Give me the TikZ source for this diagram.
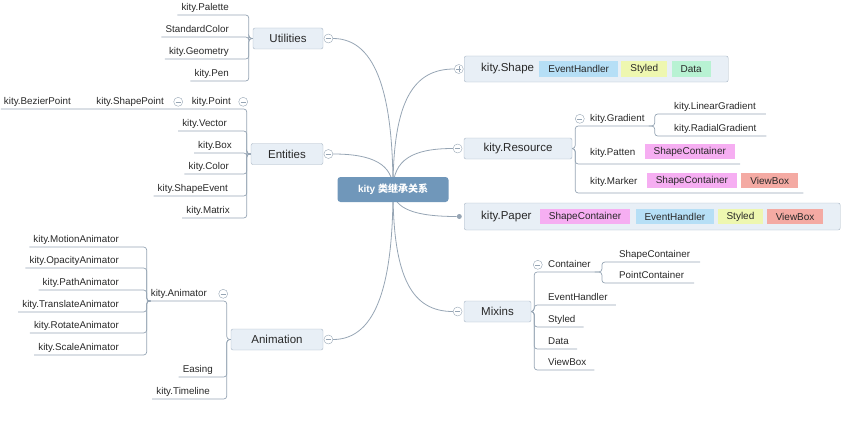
\documentclass[tikz,border=0pt]{standalone}
\usepackage{fontspec}
\setmainfont{Liberation Sans}
\newfontfamily\cjkfont{Noto Sans CJK SC}
\usetikzlibrary{positioning, backgrounds}

\definecolor{linec}{RGB}{150,165,180}
\definecolor{boxline}{RGB}{168,182,196}
\definecolor{boxfill}{RGB}{232,239,246}
\definecolor{hubfill}{RGB}{112,151,186}
\definecolor{textc}{RGB}{40,40,40}
\definecolor{cblue}{RGB}{182,223,246}
\definecolor{cyellow}{RGB}{238,247,176}
\definecolor{cgreen}{RGB}{184,242,211}
\definecolor{cpink}{RGB}{246,174,242}
\definecolor{cred}{RGB}{244,170,163}

\newcommand\leaffont{\fontsize{9.8}{11}\selectfont}
\newcommand\boxfont{\fontsize{11.5}{13}\selectfont}
\newcommand\tagfont{\fontsize{10}{12}\selectfont}

\begin{document}
\begin{tikzpicture}[
    x=1pt, y=-1pt,
    mainbox/.style={draw=boxline, fill=boxfill, rounded corners=2pt, minimum height=21pt, inner sep=0pt, font=\boxfont, text=textc},
    boxtext/.style={font=\boxfont, text=textc, inner xsep=4pt},
    hubbox/.style={fill=hubfill, rounded corners=3pt, minimum width=111pt, minimum height=25pt, text=white, font=\fontsize{10}{12}\selectfont\bfseries},
    leaf/.style={font=\leaffont, text=textc, inner xsep=4pt, inner ysep=2pt, text height=0.75em, text depth=0.25em},
    lleaf/.style={leaf, anchor=south east},
    rleaf/.style={leaf, anchor=south west},
    tagleaf/.style={rleaf, text height=0.72em, text depth=0pt, inner ysep=8.5pt},
    tag/.style={font=\tagfont, text=textc, inner xsep=9pt, inner ysep=0pt, minimum height=15.5pt},
    tagblue/.style={tag, fill=cblue},
    tagyellow/.style={tag, fill=cyellow},
    taggreen/.style={tag, fill=cgreen},
    tagpink/.style={tag, fill=cpink},
    tagred/.style={tag, fill=cred},
    fold/.style={circle, draw=linec, fill=white, minimum size=9pt, inner sep=0pt,
        path picture={\draw[linec] ([xshift=-2.6pt]path picture bounding box.center) -- ([xshift=2.6pt]path picture bounding box.center);}},
    unfold/.style={fold,
        path picture={\draw[linec] ([xshift=-2.6pt]path picture bounding box.center) -- ([xshift=2.6pt]path picture bounding box.center)
            ([yshift=-2.6pt]path picture bounding box.center) -- ([yshift=2.6pt]path picture bounding box.center);}},
    dot/.style={circle, fill=linec, minimum size=5pt, inner sep=0pt},
    branch/.style={draw=linec, line width=0.7pt, rounded corners=3pt},
    curve/.style={draw=linec, line width=0.8pt}
]
\useasboundingbox (0,0) rectangle (861,428);

% Root
\node[hubbox] (hub) at (393,189.5) {kity {\cjkfont 类继承关系}};

% Utilities
\node[mainbox, minimum width=70pt] (util) at (288,38.5) {Utilities};
\node[fold, right=0.5pt of util] (utilf) {};
\node[lleaf] (upal) at (233,15) {kity.Palette};
\node[lleaf] (ustd) at (233,37) {StandardColor};
\node[lleaf] (ugeo) at (233,59) {kity.Geometry};
\node[lleaf] (upen) at (233,81) {kity.Pen};
\foreach \n in {upal,ustd,ugeo,upen}
    \draw[branch] (util.west) -- ++(-4,0) |- (\n.south west);

% Entities
\node[mainbox, minimum width=72pt] (ent) at (287,154) {Entities};
\node[fold, right=0.5pt of ent] (entf) {};
\node[lleaf] (epnt) at (235,109) {kity.Point};
\node[fold, right=3.5pt of epnt] (epntf) {};
\node[lleaf] (eshp) at (168,109) {kity.ShapePoint};
\node[fold, right=5.5pt of eshp] (eshpf) {};
\node[lleaf, inner xsep=3pt] (ebez) at (74,109) {kity.BezierPoint};
\node[lleaf] (evec) at (231,131) {kity.Vector};
\node[lleaf] (ebox) at (236,153) {kity.Box};
\node[lleaf] (ecol) at (233,174) {kity.Color};
\node[lleaf] (esev) at (232,196) {kity.ShapeEvent};
\node[lleaf] (emat) at (234,218) {kity.Matrix};
\draw[branch] (ent.west) -- ++(-4,0) |- (epnt.south west) -- (eshp.south west) -- (ebez.south west);
\foreach \n in {evec,ebox,ecol,esev,emat}
    \draw[branch] (ent.west) -- ++(-4,0) |- (\n.south west);

% Animation
\node[mainbox, minimum width=92pt] (anim) at (277,339.5) {Animation};
\node[fold, right=0.5pt of anim] (animf) {};
\node[lleaf] (aanim) at (211,301) {kity.Animator};
\node[fold, right=7.5pt of aanim] (aanimf) {};
\node[lleaf] (aeas) at (217,377) {Easing};
\node[lleaf] (atim) at (214,399) {kity.Timeline};
\foreach \n in {aanim,aeas,atim}
    \draw[branch] (anim.west) -- ++(-4,0) |- (\n.south west);
\node[lleaf] (amot) at (123,247) {kity.MotionAnimator};
\node[lleaf] (aopa) at (123,268) {kity.OpacityAnimator};
\node[lleaf] (apat) at (123,290) {kity.PathAnimator};
\node[lleaf] (atra) at (123,312) {kity.TranslateAnimator};
\node[lleaf] (arot) at (123,333) {kity.RotateAnimator};
\node[lleaf] (asca) at (123,355) {kity.ScaleAnimator};
\foreach \n in {amot,aopa,apat,atra,arot,asca}
    \draw[branch] (aanim.south west) ++(4,0) -- ++(-4,0) |- (\n.south west);

% kity.Shape
\node[mainbox, minimum width=264pt, minimum height=26pt, anchor=west] (shape) at (464,69) {};
\node[unfold, left=0.5pt of shape] (shapef) {};
\node[boxtext, anchor=west] (shapet) at ([xshift=13pt]shape.west) {kity.Shape};
\node[tagblue, right=1pt of shapet] (seh) {EventHandler};
\node[tagyellow, right=3pt of seh] (ssty) {Styled};
\node[taggreen, right=4pt of ssty] (sdat) {Data};

% kity.Resource
\node[mainbox, minimum width=108pt] (res) at (518,148.5) {kity.Resource};
\node[fold, left=1.5pt of res] (resf) {};
\node[rleaf] (rgra) at (586,126) {kity.Gradient};
\node[fold, left=1.5pt of rgra] (rgraf) {};
\node[tagleaf] (rpat) at (586,164) {kity.Patten};
\node[tagpink, right=5pt of rpat] (rpsc) {ShapeContainer};
\node[tagleaf] (rmar) at (586,193) {kity.Marker};
\node[tagpink, right=5pt of rmar] (rmsc) {ShapeContainer};
\node[tagred, right=4pt of rmsc] (rmvb) {ViewBox};
\node[rleaf] (rlin) at (670,114) {kity.LinearGradient};
\node[rleaf] (rrad) at (670,136) {kity.RadialGradient};
\draw[branch] (res.east) -- ++(3,0) |- (rgra.south west) -- (rgra.south east);
\draw[branch] (res.east) -- ++(3,0) |- (rpat.south west) -- (rpat.south -| rpsc.east) -- ++(5,0);
\draw[branch] (res.east) -- ++(3,0) |- (rmar.south west) -- (rmar.south -| rmvb.east) -- ++(5,0);
\foreach \n in {rlin,rrad}
    \draw[branch] (rgra.south east) -- ++(6,0) |- (\n.south west) -- ([xshift=6pt]\n.south east);

% kity.Paper
\node[mainbox, minimum width=376pt, minimum height=27pt, anchor=west] (paper) at (464,216.5) {};
\node[dot, left=2pt of paper] (paperd) {};
\node[boxtext, anchor=west] (papert) at ([xshift=13pt]paper.west) {kity.Paper};
\node[tagpink, right=4pt of papert] (psc) {ShapeContainer};
\node[tagblue, right=5pt of psc] (peh) {EventHandler};
\node[tagyellow, right=3pt of peh] (psty) {Styled};
\node[tagred, right=3pt of psty] (pvb) {ViewBox};

% Mixins
\node[mainbox, minimum width=67pt] (mix) at (497.5,311.5) {Mixins};
\node[fold, left=1.5pt of mix] (mixf) {};
\node[rleaf] (mcon) at (544,272) {Container};
\node[fold, left=1.5pt of mcon] (mconf) {};
\node[rleaf] (mevt) at (544,305) {EventHandler};
\node[rleaf] (msty) at (544,327) {Styled};
\node[rleaf] (mdat) at (544,349) {Data};
\node[rleaf] (mvbx) at (544,370) {ViewBox};
\node[rleaf] (mshp) at (615,262) {ShapeContainer};
\node[rleaf] (mpnt) at (615,283) {PointContainer};
\draw[branch] (mix.east) -- ++(3,0) |- (mcon.south west) -- (mcon.south east);
\foreach \n in {mevt,msty,mdat,mvbx}
    \draw[branch] (mix.east) -- ++(3,0) |- (\n.south west) -- ([xshift=4pt]\n.south east);
\foreach \n in {mshp,mpnt}
    \draw[branch] (mcon.south east) -- ++(7,0) |- (\n.south west) -- ([xshift=6pt]\n.south east);

% Curves from the root
\begin{scope}[on background layer]
\draw[curve] (utilf.east) .. controls +(45,0) and +(0,-90) .. (hub.center);
\draw[curve] (entf.east) .. controls +(40,0) and +(0,-25) .. (hub.center);
\draw[curve] (animf.east) .. controls +(45,0) and +(0,90) .. (hub.center);
\draw[curve] (hub.center) .. controls +(0,-90) and +(-40,0) .. (shapef.west);
\draw[curve] (hub.center) .. controls +(0,-30) and +(-40,0) .. (resf.west);
\draw[curve] (hub.center) .. controls +(0,20) and +(-40,0) .. (paperd.west);
\draw[curve] (hub.center) .. controls +(0,90) and +(-40,0) .. (mixf.west);
\end{scope}

\end{tikzpicture}
\end{document}
